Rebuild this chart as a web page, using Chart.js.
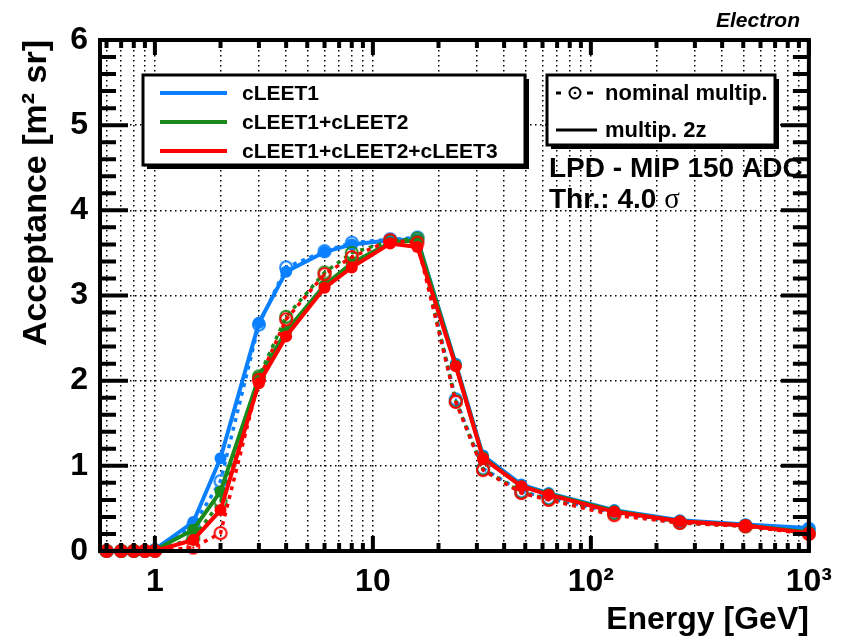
<!DOCTYPE html>
<html>
<head>
<meta charset="utf-8">
<script src="https://cdn.jsdelivr.net/npm/chart.js@4.4.1/dist/chart.umd.min.js"></script>
<style>
  html, body { margin: 0; padding: 0; background: #fff; }
</style>
</head>
<body>
<canvas id="chart" width="844" height="640"></canvas>
<script>
// energies in GeV
const energies = [0.6, 0.7, 0.8, 0.9, 1, 1.5, 2, 3, 4, 6, 8, 12, 16, 24, 32, 48, 64, 128, 256, 512, 1000];

// acceptance [m^2 sr], solid = multip. 2z, dashed = nominal multip.
const cleet1_2z      = [0, 0, 0, 0, 0.02, 0.34, 1.09, 2.68, 3.28, 3.51, 3.60, 3.65, 3.66, 2.20, 1.12, 0.78, 0.68, 0.48, 0.36, 0.31, 0.27];
const cleet1_nom     = [0, 0, 0, 0, 0.01, 0.30, 0.82, 2.66, 3.33, 3.52, 3.62, 3.66, 3.68, 1.78, 0.97, 0.70, 0.62, 0.45, 0.34, 0.30, 0.26];
const cleet12_2z     = [0, 0, 0, 0, 0.01, 0.25, 0.70, 2.04, 2.58, 3.12, 3.38, 3.62, 3.65, 2.18, 1.10, 0.76, 0.67, 0.47, 0.35, 0.30, 0.22];
const cleet12_nom    = [0, 0, 0, 0, 0, 0.15, 0.58, 2.05, 2.75, 3.27, 3.50, 3.64, 3.67, 1.76, 0.96, 0.69, 0.61, 0.44, 0.33, 0.29, 0.21];
const cleet123_2z    = [0, 0, 0, 0, 0, 0.13, 0.48, 1.97, 2.52, 3.09, 3.33, 3.61, 3.57, 2.17, 1.09, 0.76, 0.66, 0.46, 0.35, 0.30, 0.21];
const cleet123_nom   = [0, 0, 0, 0, 0, 0.04, 0.21, 2.01, 2.72, 3.25, 3.45, 3.65, 3.62, 1.75, 0.95, 0.68, 0.60, 0.42, 0.33, 0.29, 0.20];

const xTickValues = [];
for (let e = -1; e <= 2; e++) {
  for (let m = 1; m <= 9; m++) {
    const v = Number((m * Math.pow(10, e)).toPrecision(3));
    if (v >= 0.56 && v <= 1000) xTickValues.push(v);
  }
}
xTickValues.push(1000);
const xLabels = { 1: '1', 10: '10', 100: '10²', 1000: '10³' };

const BLUE = '#0a80ff';
const GREEN = '#1a8a1a';
const RED = '#ff0000';

function openMarker(color) {
  const c = document.createElement('canvas');
  c.width = 16; c.height = 16;
  const g = c.getContext('2d');
  g.strokeStyle = color;
  g.lineWidth = 2;
  g.beginPath(); g.arc(8, 8, 6, 0, Math.PI * 2); g.stroke();
  g.fillStyle = color;
  g.beginPath(); g.arc(8, 8, 1.3, 0, Math.PI * 2); g.fill();
  return c;
}

function toPoints(arr) {
  return energies.map((e, i) => ({ x: e, y: arr[i] }));
}

function solid(label, arr, color) {
  return {
    label, data: toPoints(arr), borderColor: color, backgroundColor: color,
    borderWidth: 4, pointRadius: 6, pointBorderWidth: 0, pointBackgroundColor: color,
    tension: 0, clip: false
  };
}
function dashed(label, arr, color) {
  return {
    label, data: toPoints(arr), borderColor: color, backgroundColor: color,
    borderWidth: 3.5, borderDash: [4, 5], pointStyle: openMarker(color), pointRadius: 8,
    tension: 0, clip: false
  };
}

const FONT = 'Liberation Sans, Arial, Helvetica, sans-serif';

const rootStyle = {
  id: 'rootStyle',
  afterDraw(chart) {
    const ctx = chart.ctx;
    const { left, right, top, bottom } = chart.chartArea;
    const xs = chart.scales.x, ys = chart.scales.y;
    ctx.save();
    ctx.strokeStyle = '#000';
    ctx.lineWidth = 4;
    // inner ticks on all four sides
    ctx.beginPath();
    xTickValues.forEach(v => {
      const px = xs.getPixelForValue(v);
      const len = xLabels[v] ? 15 : 8;
      ctx.moveTo(px, bottom); ctx.lineTo(px, bottom - len);
      ctx.moveTo(px, top); ctx.lineTo(px, top + len);
    });
    for (let k = 0; k <= 30; k++) {
      const py = ys.getPixelForValue(k * 0.2);
      const len = k % 5 === 0 ? 28 : 16;
      ctx.moveTo(left, py); ctx.lineTo(left + len, py);
      ctx.moveTo(right, py); ctx.lineTo(right - len, py);
    }
    ctx.stroke();
    ctx.strokeRect(left, top, right - left, bottom - top);

    // legend boxes
    function box(x, y, w, h) {
      ctx.fillStyle = '#000';
      ctx.fillRect(x + 4, y + 4, w, h);
      ctx.fillStyle = '#fff';
      ctx.fillRect(x, y, w, h);
      ctx.lineWidth = 3;
      ctx.strokeRect(x, y, w, h);
    }
    box(143, 75, 382, 90);
    ctx.font = 'bold 21px ' + FONT;
    ctx.textBaseline = 'middle';
    ctx.textAlign = 'left';
    [['cLEET1', BLUE, 93], ['cLEET1+cLEET2', GREEN, 122], ['cLEET1+cLEET2+cLEET3', RED, 151]].forEach(([t, c, y]) => {
      ctx.strokeStyle = c;
      ctx.lineWidth = 4;
      ctx.beginPath(); ctx.moveTo(160, y); ctx.lineTo(227, y); ctx.stroke();
      ctx.fillStyle = '#000';
      ctx.fillText(t, 242, y + 1);
    });

    ctx.strokeStyle = '#000';
    box(547, 75, 228, 70);
    ctx.fillStyle = '#000';
    ctx.font = 'bold 22px ' + FONT;
    ctx.fillText('nominal multip.', 605, 94);
    ctx.fillText('multip. 2z', 605, 131);
    ctx.lineWidth = 3;
    ctx.beginPath();
    ctx.moveTo(556, 93); ctx.lineTo(561, 93);
    ctx.moveTo(587, 93); ctx.lineTo(593, 93);
    ctx.stroke();
    ctx.lineWidth = 2;
    ctx.beginPath(); ctx.arc(575, 93, 5.5, 0, Math.PI * 2); ctx.stroke();
    ctx.beginPath(); ctx.arc(575, 93, 1.3, 0, Math.PI * 2); ctx.fill();
    ctx.lineWidth = 3;
    ctx.beginPath(); ctx.moveTo(556, 130); ctx.lineTo(597, 130); ctx.stroke();

    // annotations
    ctx.textBaseline = 'alphabetic';
    ctx.font = 'bold 28px ' + FONT;
    ctx.fillText('LPD - MIP 150 ADC', 549, 177);
    ctx.fillText('Thr.: 4.0', 549, 208);
    const w = ctx.measureText('Thr.: 4.0 ').width;
    ctx.font = '29px Liberation Serif, DejaVu Serif, serif';
    ctx.fillText('σ', 549 + w, 208);

    ctx.font = 'italic bold 21px ' + FONT;
    ctx.textAlign = 'right';
    ctx.fillText('Electron', 800, 27);
    ctx.restore();
  }
};

new Chart(document.getElementById('chart'), {
  type: 'line',
  data: {
    datasets: [
      solid('cLEET1+cLEET2+cLEET3 (2z)', cleet123_2z, RED),
      dashed('cLEET1+cLEET2+cLEET3 (nominal)', cleet123_nom, RED),
      solid('cLEET1+cLEET2 (2z)', cleet12_2z, GREEN),
      dashed('cLEET1+cLEET2 (nominal)', cleet12_nom, GREEN),
      solid('cLEET1 (2z)', cleet1_2z, BLUE),
      dashed('cLEET1 (nominal)', cleet1_nom, BLUE)
    ]
  },
  options: {
    responsive: false,
    animation: false,
    events: [],
    layout: { padding: { left: 0, top: 40, right: 26, bottom: 0 } },
    plugins: { legend: { display: false }, tooltip: { enabled: false } },
    scales: {
      x: {
        type: 'logarithmic',
        min: 0.56,
        max: 1000,
        afterBuildTicks: s => { s.ticks = xTickValues.map(v => ({ value: v })); },
        afterFit: s => { s.height = 89; },
        ticks: {
          autoSkip: false, maxRotation: 0, minRotation: 0, padding: 12,
          color: '#000', font: { family: FONT, size: 32, weight: 'bold' },
          callback: v => xLabels[v] || ''
        },
        grid: { color: '#000', lineWidth: 1.5, drawTicks: false },
        border: { display: false, dash: [1.5, 3.5] },
        title: {
          display: true, text: 'Energy [GeV]', align: 'end', color: '#000',
          font: { family: FONT, size: 32, weight: 'bold', lineHeight: 1 }, padding: { top: 0, bottom: 4 }
        }
      },
      y: {
        min: 0,
        max: 6,
        afterFit: s => { s.width = 100; },
        ticks: {
          stepSize: 1, padding: 12, color: '#000',
          font: { family: FONT, size: 32, weight: 'bold' }
        },
        grid: { color: '#000', lineWidth: 1.5, drawTicks: false },
        border: { display: false, dash: [1.5, 3.5] },
        title: {
          display: true, text: 'Acceptance [m² sr]', align: 'end', color: '#000',
          font: { family: FONT, size: 34, weight: 'bold', lineHeight: 1 }, padding: { top: 20, bottom: 0 }
        }
      }
    }
  },
  plugins: [rootStyle]
});
</script>
</body>
</html>
